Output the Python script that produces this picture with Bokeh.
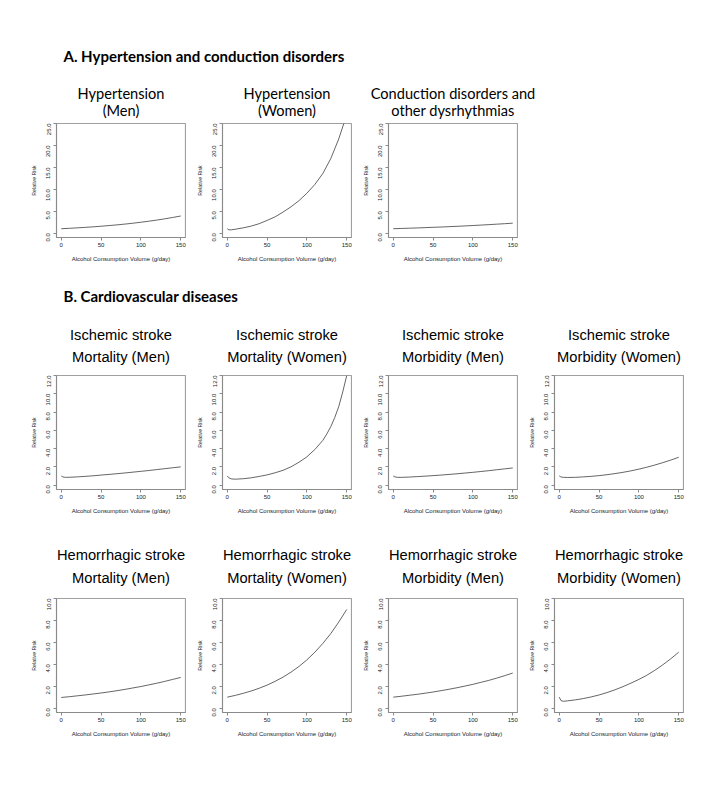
import math
from bokeh.plotting import figure
from bokeh.layouts import column, row
from bokeh.models import Range1d, FixedTicker, PrintfTickFormatter, Spacer
from bokeh.core.properties import value
from bokeh.embed import file_html
from bokeh.resources import INLINE

# ---------------- data ----------------
x_std = [0, 10, 20, 30, 40, 50, 60, 70, 80, 90, 100, 110, 120, 130, 140, 150]
x_dip = [0, 2, 5, 10, 20, 30, 40, 50, 60, 70, 80, 90, 100, 110, 120, 130, 140, 150]
x_dip_fine = [0, 2, 5, 10, 20, 30, 40, 50, 60, 70, 80, 90, 100, 110, 120, 125, 130, 135, 140, 145, 150]

hyp_men = [1.0, 1.09, 1.2, 1.31, 1.43, 1.57, 1.72, 1.88, 2.06, 2.26, 2.48, 2.72, 2.97, 3.26, 3.57, 3.9]
hyp_women = [1.0, 0.75, 0.75, 0.88, 1.2, 1.6, 2.15, 2.9, 3.7, 4.8, 6.0, 7.4, 9.1, 11.1, 13.6, 17.0, 21.5, 27.0]
conduction = [1.0, 1.06, 1.12, 1.18, 1.25, 1.32, 1.39, 1.47, 1.55, 1.64, 1.73, 1.83, 1.93, 2.04, 2.15, 2.27]

isch_mort_men = [1.0, 0.9, 0.85, 0.86, 0.9, 0.96, 1.02, 1.1, 1.17, 1.25, 1.33, 1.42, 1.51, 1.6, 1.7, 1.8, 1.9, 2.0]
isch_mort_women = [1.0, 0.8, 0.68, 0.65, 0.7, 0.8, 0.95, 1.12, 1.35, 1.62, 2.0, 2.5, 3.1, 3.9, 4.9,
                   5.6, 6.4, 7.4, 8.6, 10.2, 12.0]
isch_morb_men = [1.0, 0.9, 0.85, 0.85, 0.88, 0.93, 0.98, 1.04, 1.1, 1.17, 1.24, 1.32, 1.4, 1.49, 1.58, 1.68, 1.78, 1.88]
isch_morb_women = [1.0, 0.9, 0.85, 0.84, 0.85, 0.9, 0.96, 1.04, 1.14, 1.26, 1.4, 1.56, 1.75, 1.96, 2.2, 2.46, 2.74, 3.05]

hem_mort_men = [0.97, 1.04, 1.12, 1.2, 1.29, 1.38, 1.48, 1.59, 1.71, 1.84, 1.97, 2.12, 2.27, 2.44, 2.62, 2.8]
hem_mort_women = [1.0, 1.16, 1.35, 1.56, 1.81, 2.1, 2.44, 2.83, 3.28, 3.8, 4.4, 5.1, 5.9, 6.8, 7.85, 9.0]
hem_morb_men = [1.0, 1.08, 1.17, 1.26, 1.36, 1.47, 1.59, 1.72, 1.86, 2.01, 2.17, 2.35, 2.53, 2.74, 2.96, 3.2]
hem_morb_women = [1.0, 0.7, 0.62, 0.66, 0.75, 0.87, 1.02, 1.2, 1.42, 1.67, 1.96, 2.28, 2.62, 3.0, 3.45, 3.95, 4.5, 5.1]

x_ticks = [0, 50, 100, 150]
y_ticks_a = [0, 5, 10, 15, 20, 25]
y_ticks_b = [0, 2, 4, 6, 8, 10, 12]
y_ticks_c = [0, 2, 4, 6, 8, 10]

header_a = "A. Hypertension and conduction disorders"
header_b = "B. Cardiovascular diseases"
titles_a = [("Hypertension", "(Men)"), ("Hypertension", "(Women)"),
            ("Conduction disorders and", "other dysrhythmias")]
titles_b = [("Ischemic stroke", "Mortality (Men)"), ("Ischemic stroke", "Mortality (Women)"),
            ("Ischemic stroke", "Morbidity (Men)"), ("Ischemic stroke", "Morbidity (Women)")]
titles_c = [("Hemorrhagic stroke", "Mortality (Men)"), ("Hemorrhagic stroke", "Mortality (Women)"),
            ("Hemorrhagic stroke", "Morbidity (Men)"), ("Hemorrhagic stroke", "Morbidity (Women)")]
x_label = "Alcohol Consumption Volume (g/day)"
y_label = "Relative Risk"

# ---------------- layout constants ----------------
PAGE_W = 700
PANEL_W = 166
LEFT = 36
FRAME_W = 129
FRAME_H = 114
TOP_B = 2
BOT_B = 28
AXIS_FONT = "Liberation Sans"
centers = [56 + PANEL_W * i + FRAME_W / 2 for i in range(4)]


def header(top, bottom, texts):
    h = bottom - top
    p = figure(width=PAGE_W, height=h, x_range=Range1d(8, 8 + PAGE_W),
               y_range=Range1d(bottom, top), toolbar_location=None,
               output_backend="svg", x_axis_type=None, y_axis_type=None,
               min_border=0, outline_line_color=None)
    p.grid.visible = False
    for (x, y, t, font, size, style, align) in texts:
        p.text(x=[x], y=[y], text=[t], text_align=align, text_baseline="middle",
               text_font=value(font), text_font_size=size, text_font_style=style,
               text_color="black")
    return row(Spacer(width=8), p)


def panel(xs, ys, ymax, yticks):
    p = figure(width=PANEL_W, height=TOP_B + FRAME_H + BOT_B,
               x_range=Range1d(-6, 156), y_range=Range1d(-0.04 * ymax, ymax),
               toolbar_location=None, output_backend="svg",
               min_border_left=LEFT, min_border_right=PANEL_W - LEFT - FRAME_W,
               min_border_top=TOP_B, min_border_bottom=BOT_B)
    p.grid.visible = False
    p.outline_line_color = "#a0a0a0"
    p.outline_line_width = 1.2
    p.line(xs, ys, line_color="#555555", line_width=0.9)
    p.xaxis.ticker = FixedTicker(ticks=x_ticks)
    p.yaxis.ticker = FixedTicker(ticks=yticks)
    p.yaxis.formatter = PrintfTickFormatter(format="%.1f")
    for ax in (p.xaxis[0], p.yaxis[0]):
        ax.axis_line_color = "#8a8a8a"
        ax.major_tick_line_color = "#8a8a8a"
        ax.minor_tick_line_color = None
        ax.major_tick_out = 3
        ax.major_tick_in = 0
        ax.major_label_text_font = AXIS_FONT
        ax.major_label_text_font_size = "6px"
        ax.major_label_text_color = "#222222"
        ax.axis_label_text_font = AXIS_FONT
        ax.axis_label_text_font_style = "normal"
        ax.axis_label_text_color = "#222222"
    p.xaxis.major_label_standoff = 2
    p.yaxis.major_label_standoff = 5
    p.yaxis.major_label_orientation = math.pi / 2
    p.xaxis.axis_label = x_label
    p.xaxis.axis_label_text_font_size = "6px"
    p.xaxis.axis_label_standoff = 6
    p.yaxis.axis_label = y_label
    p.yaxis.axis_label_text_font_size = "5.2px"
    p.yaxis.axis_label_standoff = 5
    return p


# ---------------- headers ----------------
TA, TA_SIZE = "Lato", "14.6px"
TB, TB_SIZE = "Liberation Sans", "14.7px"

texts_a = [(63, 55, header_a, "Lato", "15px", "bold", "left")]
for c, (l1, l2) in zip(centers, titles_a):
    texts_a.append((c, 93, l1, TA, TA_SIZE, "normal", "center"))
    texts_a.append((c, 110, l2, TA, TA_SIZE, "normal", "center"))
hdr_a = header(8, 121, texts_a)

texts_b = [(63, 295, header_b, "Lato", "15px", "bold", "left")]
for c, (l1, l2) in zip(centers, titles_b):
    texts_b.append((c, 334, l1, TB, TB_SIZE, "normal", "center"))
    texts_b.append((c, 356, l2, TB, TB_SIZE, "normal", "center"))
hdr_b = header(265, 373, texts_b)

texts_c = []
for c, (l1, l2) in zip(centers, titles_c):
    texts_c.append((c, 554, l1, TB, TB_SIZE, "normal", "center"))
    texts_c.append((c, 577, l2, TB, TB_SIZE, "normal", "center"))
hdr_c = header(517, 596, texts_c)

# ---------------- panels ----------------
row_a = row(Spacer(width=20), panel(x_std, hyp_men, 25, y_ticks_a),
            panel(x_dip, hyp_women, 25, y_ticks_a),
            panel(x_std, conduction, 25, y_ticks_a))
row_b = row(Spacer(width=20), panel(x_dip, isch_mort_men, 12, y_ticks_b),
            panel(x_dip_fine, isch_mort_women, 12, y_ticks_b),
            panel(x_dip, isch_morb_men, 12, y_ticks_b),
            panel(x_dip, isch_morb_women, 12, y_ticks_b))
row_c = row(Spacer(width=20), panel(x_std, hem_mort_men, 10, y_ticks_c),
            panel(x_std, hem_mort_women, 10, y_ticks_c),
            panel(x_std, hem_morb_men, 10, y_ticks_c),
            panel(x_dip, hem_morb_women, 10, y_ticks_c))

page = column(Spacer(height=8), hdr_a, row_a, hdr_b, row_b, hdr_c, row_c)
open("out.html", "w").write(file_html(page, INLINE))
